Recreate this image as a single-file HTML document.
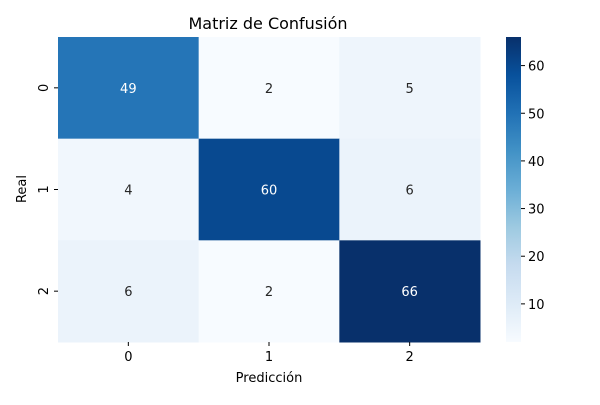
<!DOCTYPE html>
<html><head><meta charset="utf-8"><style>body{margin:0;background:#fff}svg text{font-family:"DejaVu Sans","Liberation Sans",sans-serif}</style></head>
<body>
<svg id="c" width="600" height="400" xmlns="http://www.w3.org/2000/svg">
<defs><linearGradient id="g" x1="0" y1="1" x2="0" y2="0"></linearGradient></defs>
<text x="268" y="29" text-anchor="middle" font-size="16" fill="#000">Matriz de Confusión</text>
<text x="269" y="382" text-anchor="middle" font-size="13" fill="#000">Predicción</text>
<text transform="translate(26,189) rotate(-90)" text-anchor="middle" font-size="13" fill="#000">Real</text>
</svg>
<script>
const predLabels=['0','1','2'];
const realLabels=['0','1','2'];
const row0=[49,2,5];
const row1=[4,60,6];
const row2=[6,2,66];
const cbTicks=[10,20,30,40,50,60];
const matrix=[row0,row1,row2];
const vmin=2,vmax=66;
const L=58,R=480,T=37,B=342;
const blues=[[247,251,255],[222,235,247],[198,219,239],[158,202,225],[107,174,214],[66,146,198],[33,113,181],[8,81,156],[8,48,107]];
function cmap(v){let t=Math.max(0,Math.min(1,(v-vmin)/(vmax-vmin)))*(blues.length-1);let i=Math.min(Math.floor(t),blues.length-2),f=t-i;const c=blues[i].map((a,k)=>Math.round(a+(blues[i+1][k]-a)*f));return{s:`rgb(${c})`,lum:(0.299*c[0]+0.587*c[1]+0.114*c[2])}}
const svg=document.getElementById('c');const NS='http://www.w3.org/2000/svg';
function mk(t,a,p){const e=document.createElementNS(NS,t);for(const k in a)e.setAttribute(k,a[k]);(p||svg).appendChild(e);return e}
const cw=(R-L)/predLabels.length,ch=(B-T)/realLabels.length;
function xS(j){return L+j*cw}function yS(i){return T+i*ch}
matrix.forEach((row,i)=>row.forEach((v,j)=>{const c=cmap(v);
const r=mk('rect',{x:xS(j),y:yS(i),width:cw+0.5,height:ch+0.5,fill:c.s});


const t=mk('text',{x:xS(j)+cw/2,y:yS(i)+ch/2+5,'text-anchor':'middle','font-size':13,fill:c.lum<140?'#fff':'#262626'});t.textContent=v;


}));
predLabels.forEach((l,j)=>{const x=xS(j)+cw/2;mk('line',{x1:x,x2:x,y1:B,y2:B+4,stroke:'#000'});const t=mk('text',{x:x,y:B+19,'text-anchor':'middle','font-size':13});t.textContent=l;

});
realLabels.forEach((l,i)=>{const y=yS(i)+ch/2;mk('line',{x1:L-4,x2:L,y1:y,y2:y,stroke:'#000'});const t=mk('text',{transform:`translate(${L-10},${y}) rotate(-90)`,'text-anchor':'middle','font-size':13});t.textContent=l;

});
const g=document.getElementById('g');blues.forEach((c,k)=>mk('stop',{offset:k/(blues.length-1),'stop-color':`rgb(${c})`},g));
const CL=506,CR=521;
const cb=mk('rect',{x:CL,y:T,width:CR-CL,height:B-T,fill:'url(#g)'});


function cy(v){return B-(v-vmin)/(vmax-vmin)*(B-T)}
cbTicks.forEach(v=>{const y=cy(v);mk('line',{x1:CR,x2:CR+4,y1:y,y2:y,stroke:'#000'});const t=mk('text',{x:CR+7,y:y+5,'font-size':13});t.textContent=v;

});
</script>
</body></html>
